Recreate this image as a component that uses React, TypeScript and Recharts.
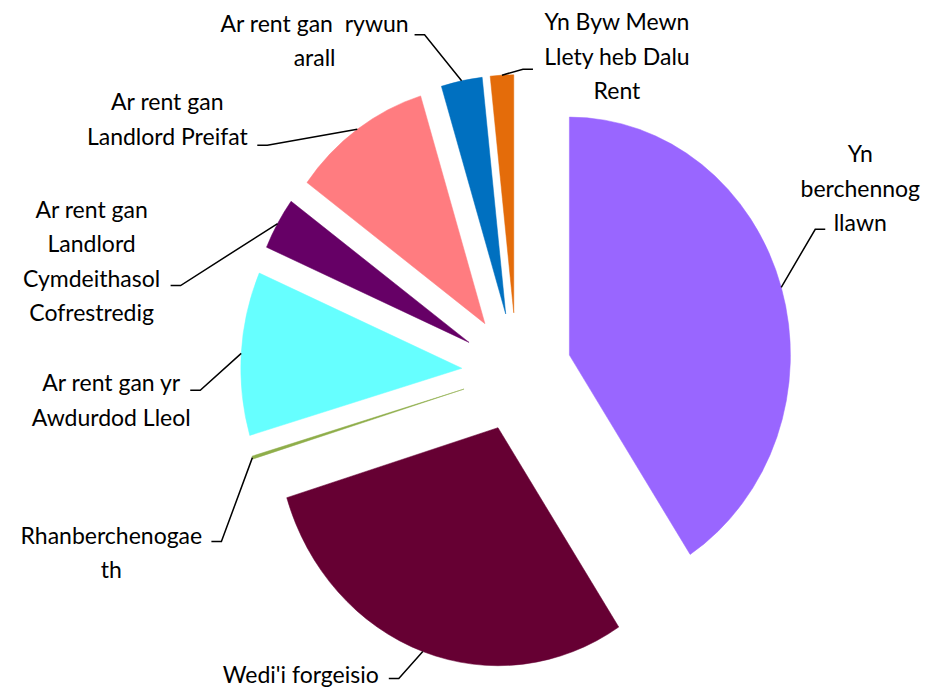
import { PieChart, Pie, Sector, Cell } from "recharts";

const categories = [
  "Yn berchennog llawn",
  "Wedi'i forgeisio",
  "Rhanberchenogaeth",
  "Ar rent gan yr Awdurdod Lleol",
  "Ar rent gan Landlord Cymdeithasol Cofrestredig",
  "Ar rent gan Landlord Preifat",
  "Ar rent gan rywun arall",
  "Yn Byw Mewn Llety heb Dalu Rent",
];
const shares = [40.8, 29.45, 0.2, 11.1, 3.55, 10.2, 3.0, 1.7];
const labelLines = [
  ["Yn", "berchennog", "llawn"],
  ["Wedi'i forgeisio"],
  ["Rhanberchenogae", "th"],
  ["Ar rent gan yr", "Awdurdod Lleol"],
  ["Ar rent gan", "Landlord", "Cymdeithasol", "Cofrestredig"],
  ["Ar rent gan", "Landlord Preifat"],
  ["Ar rent gan\u00a0 rywun", "arall"],
  ["Yn Byw Mewn", "Llety heb Dalu", "Rent"],
];

const COLORS = ["#9966FF", "#660033", "#8FAE4A", "#66FFFF", "#660066", "#FF7C80", "#0070C0", "#E46C0A"];

// leader elbow + text block, relative to the slice's outer anchor point
const LEADERS = [
  { ex: 34, ey: -58, tx: 79, ty: -125 },
  { ex: -24, ey: 27, tx: -122, ty: 31 },
  { ex: -31, ey: 84, tx: -141, ty: 86 },
  { ex: -41, ey: 37, tx: -130, ty: 38 },
  { ex: -97, ey: 62, tx: -186, ty: -6 },
  { ex: -90, ey: 16, tx: -190, ty: -19 },
  { ex: -37, ey: -46, tx: -147, ty: -49 },
  { ex: 21, ey: -6, tx: 115, ty: -45 },
];

const RAD = Math.PI / 180;
const EXPLODE = 55;
const SY = 1.077; // pie is drawn slightly taller than wide
const FONT = "Lato, 'Open Sans', sans-serif";

const data = categories.map((name, i) => ({ name, value: shares[i] }));

function ExplodedSlice(props: any) {
  const { cx, cy, midAngle, innerRadius, outerRadius, startAngle, endAngle, fill } = props;
  const a = -midAngle * RAD;
  const ox = cx + EXPLODE * Math.cos(a);
  const oy = cy + EXPLODE * Math.sin(a);
  return (
    <g transform={`translate(0 ${cy}) scale(1 ${SY}) translate(0 ${-cy})`}>
      <Sector
        cx={ox}
        cy={oy}
        innerRadius={innerRadius}
        outerRadius={outerRadius}
        startAngle={startAngle}
        endAngle={endAngle}
        fill={fill}
        stroke={fill}
        strokeWidth={0.5}
      />
    </g>
  );
}

function SliceLabel(props: any) {
  const { cx, cy, midAngle, outerRadius, index } = props;
  const a = -midAngle * RAD;
  const ax = cx + (EXPLODE + outerRadius) * Math.cos(a);
  const ay = cy + (EXPLODE + outerRadius) * Math.sin(a) * SY;
  const l = LEADERS[index];
  const bx = ax + l.ex;
  const by = ay + l.ey;
  const tail = l.tx > l.ex ? 10 : -10;
  const tx = ax + l.tx;
  const ty = ay + l.ty;
  return (
    <g>
      <polyline
        points={`${ax},${ay} ${bx},${by} ${bx + tail},${by}`}
        fill="none"
        stroke="#000"
        strokeWidth={1.5}
      />
      <text x={tx} y={ty} textAnchor="middle" fontFamily={FONT} fontSize={23} fill="#000">
        {labelLines[index].map((line, k) => (
          <tspan key={k} x={tx} dy={k === 0 ? 0 : 34.5}>
            {line}
          </tspan>
        ))}
      </text>
    </g>
  );
}

export default function App() {
  return (
    <div style={{ position: "absolute", left: 0, top: 0, background: "#fff" }}>
      <PieChart width={935} height={689} margin={{ top: 0, right: 0, bottom: 0, left: 0 }}>
        <Pie
          data={data}
          dataKey="value"
          nameKey="name"
          cx={516.7}
          cy={372}
          outerRadius={221}
          startAngle={90}
          endAngle={-270}
          stroke="none"
          shape={ExplodedSlice}
          activeShape={ExplodedSlice}
          inactiveShape={ExplodedSlice}
          label={SliceLabel}
          labelLine={false}
          isAnimationActive={false}
        >
          {data.map((d, i) => (
            <Cell key={d.name} fill={COLORS[i]} />
          ))}
        </Pie>
      </PieChart>
    </div>
  );
}
